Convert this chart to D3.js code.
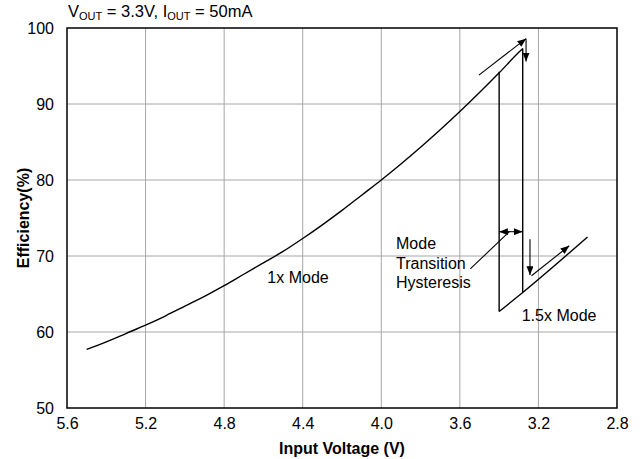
<!DOCTYPE html>
<html>
<head>
<meta charset="utf-8">
<script src="https://cdn.jsdelivr.net/npm/d3@7"></script>
<style>
  body { margin: 0; background: #fff; }
  text { font-family: "Liberation Sans", Arial, sans-serif; fill: #000; }
</style>
</head>
<body>
<div id="chart"></div>
<script>
// data
const xTicks = [5.6, 5.2, 4.8, 4.4, 4.0, 3.6, 3.2, 2.8];
const yTicks = [50, 60, 70, 80, 90, 100];

// 1x mode, input voltage falling
const oneXVin = [5.5, 5.4, 5.3, 5.2, 5.1, 5.0, 4.9, 4.8, 4.7, 4.6, 4.5, 4.4, 4.3, 4.2, 4.1, 4.0,
                 3.9, 3.8, 3.7, 3.6, 3.5, 3.4, 3.3, 3.28];
const oneXEff = [57.7, 58.7, 59.8, 60.9, 62.1, 63.4, 64.7, 66.1, 67.6, 69.1, 70.6, 72.3, 74.1, 76.0,
                 78.0, 80.0, 82.1, 84.3, 86.6, 89.0, 91.5, 94.1, 96.8, 97.3];
// drop to 1.5x mode
const dropVin = [3.28, 3.28];
const dropEff = [97.3, 65.2];
// 1.5x mode
const halfXVin = [3.40, 3.28, 2.95];
const halfXEff = [62.7, 65.2, 72.5];
// jump back to 1x mode, input voltage rising
const jumpVin = [3.40, 3.40];
const jumpEff = [62.7, 94.25];

// annotation arrows [vin1, eff1, vin2, eff2, heads]
const arrows = [
  [3.503, 93.8, 3.263, 98.6, "end"],
  [3.263, 98.6, 3.263, 95.6, "end"],
  [3.243, 72.2, 3.243, 67.5, "end"],
  [3.235, 67.4, 3.043, 71.35, "end"],
  [3.40, 73.2, 3.28, 73.2, "both"],
  [3.547, 68.3, 3.348, 73.2, "none"]
];

const labels = [
  {vin: 4.58, eff: 66.4, lines: ["1x Mode"]},
  {vin: 3.925, eff: 70.9, lines: ["Mode", "Transition", "Hysteresis"]},
  {vin: 3.285, eff: 61.5, lines: ["1.5x Mode"]}
];

const width = 644, height = 459;
const margin = {top: 28, right: 27, bottom: 51, left: 67};

const svg = d3.select("#chart").append("svg")
  .attr("width", width)
  .attr("height", height);

const x = d3.scaleLinear().domain([5.6, 2.8]).range([margin.left, width - margin.right]);
const y = d3.scaleLinear().domain([50, 100]).range([height - margin.bottom, margin.top]);

// arrow heads
const defs = svg.append("defs");
defs.append("marker")
  .attr("id", "head")
  .attr("viewBox", "0 0 10 8")
  .attr("refX", 10).attr("refY", 4)
  .attr("markerWidth", 9).attr("markerHeight", 7)
  .attr("markerUnits", "userSpaceOnUse")
  .attr("orient", "auto-start-reverse")
  .append("path").attr("d", "M0,0L10,4L0,8Z").attr("fill", "#000");

// grid
svg.append("g").selectAll("line")
  .data(xTicks.slice(1, -1))
  .join("line")
  .attr("x1", d => x(d)).attr("x2", d => x(d))
  .attr("y1", y(50)).attr("y2", y(100))
  .attr("stroke", "#a6a6a6").attr("stroke-width", 1);

svg.append("g").selectAll("line")
  .data(yTicks.slice(1, -1))
  .join("line")
  .attr("x1", x(5.6)).attr("x2", x(2.8))
  .attr("y1", d => y(d)).attr("y2", d => y(d))
  .attr("stroke", "#a6a6a6").attr("stroke-width", 1);

// axes (labels only)
const xAxis = svg.append("g")
  .attr("transform", `translate(0,${y(50)})`)
  .call(d3.axisBottom(x).tickValues(xTicks).tickFormat(d3.format(".1f")).tickSize(0).tickPadding(10));
xAxis.select(".domain").remove();
xAxis.selectAll("text").attr("font-size", "16px").attr("font-family", "Liberation Sans, Arial, sans-serif");

const yAxis = svg.append("g")
  .attr("transform", `translate(${x(5.6)},0)`)
  .call(d3.axisLeft(y).tickValues(yTicks).tickSize(0).tickPadding(13));
yAxis.select(".domain").remove();
yAxis.selectAll("text").attr("font-size", "16px").attr("font-family", "Liberation Sans, Arial, sans-serif");

// frame
svg.append("rect")
  .attr("x", x(5.6)).attr("y", y(100))
  .attr("width", x(2.8) - x(5.6)).attr("height", y(50) - y(100))
  .attr("fill", "none").attr("stroke", "#000").attr("stroke-width", 1.5);

// curves
const line = d3.line().x(d => x(d[0])).y(d => y(d[1])).curve(d3.curveMonotoneX);
const series = [
  d3.zip(oneXVin, oneXEff),
  d3.zip(dropVin, dropEff),
  d3.zip(halfXVin, halfXEff),
  d3.zip(jumpVin, jumpEff)
];
svg.append("g").selectAll("path")
  .data(series)
  .join("path")
  .attr("d", d => (d[0][0] === d[1][0] ? d3.line().x(p => x(p[0])).y(p => y(p[1])) : line)(d))
  .attr("fill", "none")
  .attr("stroke", "#000")
  .attr("stroke-width", 1.4)
  .attr("stroke-linejoin", "round");

// annotation arrows
svg.append("g").selectAll("line")
  .data(arrows)
  .join("line")
  .attr("x1", d => x(d[0])).attr("y1", d => y(d[1]))
  .attr("x2", d => x(d[2])).attr("y2", d => y(d[3]))
  .attr("stroke", "#000").attr("stroke-width", 1.1)
  .attr("marker-end", d => d[4] === "none" ? null : "url(#head)")
  .attr("marker-start", d => d[4] === "both" ? "url(#head)" : null);

// annotation text
const lab = svg.append("g").selectAll("text")
  .data(labels)
  .join("text")
  .attr("x", d => x(d.vin))
  .attr("y", d => y(d.eff))
  .attr("font-size", "16px");
lab.selectAll("tspan")
  .data(d => d.lines.map((t, i) => ({t, i, vin: d.vin})))
  .join("tspan")
  .attr("x", d => x(d.vin))
  .attr("dy", d => d.i === 0 ? 0 : 19.5)
  .text(d => d.t);

// title with subscripts
const title = svg.append("text")
  .attr("x", 68).attr("y", 17)
  .attr("font-size", "16.5px");
[["V", 0, 16.5], ["OUT", 3, 11], [" = 3.3V, I", -3, 16.5], ["OUT", 3, 11], [" = 50mA", -3, 16.5]]
  .forEach(p => title.append("tspan").attr("dy", p[1]).attr("font-size", p[2] + "px").text(p[0]));

// axis titles
svg.append("text")
  .attr("x", (x(5.6) + x(2.8)) / 2).attr("y", 454)
  .attr("text-anchor", "middle")
  .attr("font-size", "16px").attr("font-weight", "bold")
  .text("Input Voltage (V)");

svg.append("text")
  .attr("transform", `translate(29,${(y(50) + y(100)) / 2}) rotate(-90)`)
  .attr("text-anchor", "middle")
  .attr("font-size", "16px").attr("font-weight", "bold")
  .text("Efficiency(%)");
</script>
</body>
</html>
